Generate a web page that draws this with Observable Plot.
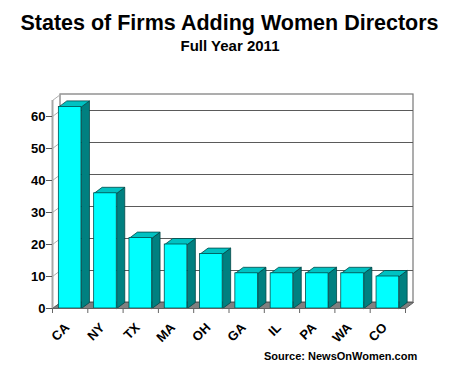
<!DOCTYPE html>
<html>
<head>
<meta charset="utf-8">
<script src="https://cdn.jsdelivr.net/npm/d3@7"></script>
<script src="https://cdn.jsdelivr.net/npm/@observablehq/plot@0.6"></script>
<style>
  html, body { margin: 0; padding: 0; background: #fff; }
  #wrap { position: relative; width: 450px; height: 374px; font-family: "Liberation Sans", Arial, sans-serif; font-weight: bold; color: #000; }
  #wrap svg { position: absolute; left: 0; top: 0; }
  .t { position: absolute; white-space: nowrap; line-height: 1; }
</style>
</head>
<body>
<div id="wrap">
  <div class="t" id="title" style="left:0;width:459px;text-align:center;top:12.8px;font-size:21.5px;">States of Firms Adding Women Directors</div>
  <div class="t" id="sub" style="left:0;width:460px;text-align:center;top:38px;font-size:15px;">Full Year 2011</div>
  <div class="t" id="src" style="left:264px;top:351.4px;font-size:11px;">Source: NewsOnWomen.com</div>
</div>
<script>
const states = ["CA", "NY", "TX", "MA", "OH", "GA", "IL", "PA", "WA", "CO"];
const counts = [63, 36, 22, 20, 17, 11, 11, 11, 11, 10];
const yTicks = [0, 10, 20, 30, 40, 50, 60];
const yMax = 65;

// layout
const W = 450, H = 374, mL = 52, mR = 45, mT = 100, mB = 66;
const pxPerX = (W - mL - mR) / states.length;
const pxPerY = (H - mT - mB) / yMax;
const DX = 8 / pxPerX;      // 3D depth (data units)
const DY = 6 / pxPerY;
const HALF = 11.3 / pxPerX; // half bar width
const x0 = -0.5, x1 = states.length - 0.5;

const bars = states.map((s, i) => ({s, i, v: counts[i]}));
const poly = (s, pts) => pts.map(([x, y]) => ({s, x, y}));
const tops = bars.flatMap(({s, i, v}) => {
  const l = i - HALF, r = i + HALF;
  return poly(s, [[l, v], [r, v], [r + DX, v + DY], [l + DX, v + DY], [l, v]]);
});
const sides = bars.flatMap(({s, i, v}) => {
  const r = i + HALF;
  return poly(s, [[r, 0], [r, v], [r + DX, v + DY], [r + DX, DY], [r, 0]]);
});
const floor = poly("floor", [[x0, 0], [x1, 0], [x1 + DX, DY], [x0 + DX, DY], [x0, 0]]);
const wallTicks = [...yTicks, yMax];
const boundaries = states.map((_, i) => i - 0.5).concat([x1]);

const chart = Plot.plot({
  width: W, height: H,
  marginLeft: mL, marginRight: mR, marginTop: mT, marginBottom: mB,
  x: {type: "linear", domain: [x0, x1]},
  y: {domain: [0, yMax]},
  style: {fontFamily: "'Liberation Sans', Arial, sans-serif", background: "transparent", color: "#000"},
  marks: [
    // back wall
    Plot.rect([0], {x1: x0 + DX, x2: x1 + DX, y1: DY, y2: yMax + DY, fill: "#fff", stroke: "#777", strokeWidth: 1.2}),
    Plot.ruleY(yTicks.slice(1), {y: d => d + DY, x1: x0 + DX, x2: x1 + DX, stroke: "#5a5a5a", strokeWidth: 1.2}),
    // left wall
    Plot.link(wallTicks, {x1: x0, y1: d => d, x2: x0 + DX, y2: d => d + DY, stroke: "#b0b0b0", strokeWidth: 1}),
    Plot.ruleX([x0], {y1: 0, y2: yMax, stroke: "#a8a8a8", strokeWidth: 2}),
    // floor
    Plot.line(floor, {x: "x", y: "y", fill: "#808080", stroke: "#606060", strokeWidth: 1}),
    // bars
    Plot.line(sides, {x: "x", y: "y", z: "s", fill: "#008080", stroke: "#004848", strokeWidth: 0.8}),
    Plot.line(tops, {x: "x", y: "y", z: "s", fill: "#00c2c2", stroke: "#004848", strokeWidth: 0.8}),
    Plot.rect(bars, {x1: d => d.i - HALF, x2: d => d.i + HALF, y1: 0, y2: "v", fill: "#00ffff", stroke: "#005050", strokeWidth: 0.8}),
    // front floor edge
    Plot.ruleY([0], {x1: x0, x2: x1, stroke: "#606060", strokeWidth: 1}),
    // axes
    Plot.axisY(yTicks, {tickSize: 6, tickPadding: 1, fontSize: 13, fontWeight: "bold", stroke: "#555"}),
    Plot.axisX(boundaries, {tickSize: 5, tickFormat: () => "", stroke: "#666"}),
    Plot.text(bars, {x: "i", y: 0, text: "s", rotate: -45, textAnchor: "end", dx: -3, dy: 17, fontSize: 13, fontWeight: "bold", fill: "#000"})
  ]
});
document.getElementById("wrap").prepend(chart);
</script>
</body>
</html>
